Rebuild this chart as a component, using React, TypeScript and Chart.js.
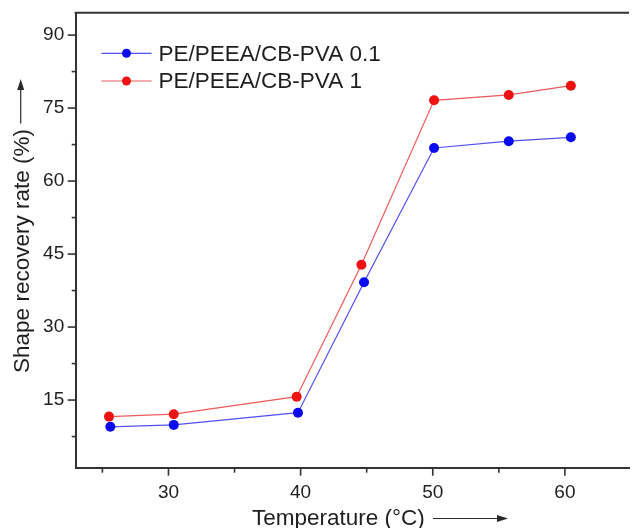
import React, { useEffect, useRef } from "react";
import { Chart, registerables } from "chart.js";

Chart.register(...registerables);

// ---- data ----
const seriesLabels = ["PE/PEEA/CB-PVA 0.1", "PE/PEEA/CB-PVA 1"];
const temperatureBlue = [25.6, 30.4, 39.8, 44.8, 50.1, 55.75, 60.45];
const recoveryBlue = [9.5, 9.9, 12.4, 39.2, 66.8, 68.2, 69.0];
const temperatureRed = [25.5, 30.4, 39.7, 44.6, 50.1, 55.75, 60.45];
const recoveryRed = [11.6, 12.1, 15.7, 42.8, 76.6, 77.7, 79.6];

const xMajorTicks = [30, 40, 50, 60];
const xMinorTicks = [25, 35, 45, 55];
const yMajorTicks = [15, 30, 45, 60, 75, 90];
const yMinorTicks = [7.5, 22.5, 37.5, 52.5, 67.5, 82.5];

const xTitle = "Temperature (°C)";
const yTitle = "Shape recovery rate (%)";

const X_MIN = 22.98;
const X_MAX = 64.85;
const Y_MIN = 1.1;
const Y_MAX = 94.6;

const FONT = "'Liberation Sans', Arial, sans-serif";
const AXIS_COLOR = "#333333";
const TEXT_COLOR = "#1e1e1e";
const BLUE_LINE = "#5050f5";
const BLUE_POINT = "#0a0af2";
const RED_LINE = "#ee5a5a";
const RED_POINT = "#f01212";

const decorPlugin = {
  id: "decor",
  afterDraw(chart: any) {
    const { ctx, chartArea, scales } = chart;
    const xs = scales.x;
    const ys = scales.y;
    ctx.save();
    // top border
    ctx.strokeStyle = AXIS_COLOR;
    ctx.lineWidth = 2;
    ctx.beginPath();
    ctx.moveTo(chartArea.left - 1, chartArea.top);
    ctx.lineTo(chartArea.right, chartArea.top);
    ctx.stroke();

    // tick marks
    ctx.lineWidth = 1.6;
    const xTick = (v: number, len: number) => {
      const px = xs.getPixelForValue(v);
      ctx.beginPath();
      ctx.moveTo(px, chartArea.bottom);
      ctx.lineTo(px, chartArea.bottom + len);
      ctx.stroke();
    };
    const yTick = (v: number, len: number) => {
      const py = ys.getPixelForValue(v);
      ctx.beginPath();
      ctx.moveTo(chartArea.left, py);
      ctx.lineTo(chartArea.left - len, py);
      ctx.stroke();
    };
    xMajorTicks.forEach((v) => xTick(v, 8));
    xMinorTicks.forEach((v) => xTick(v, 5));
    yMajorTicks.forEach((v) => yTick(v, 8));
    yMinorTicks.forEach((v) => yTick(v, 4));

    // legend
    const rows = [53.3, 81];
    chart.data.datasets.forEach((ds: any, i: number) => {
      const yy = rows[i];
      ctx.strokeStyle = ds.borderColor;
      ctx.lineWidth = 1.2;
      ctx.beginPath();
      ctx.moveTo(101.5, yy);
      ctx.lineTo(151.5, yy);
      ctx.stroke();
      ctx.fillStyle = ds.pointBackgroundColor;
      ctx.beginPath();
      ctx.arc(126.5, yy, 4.5, 0, Math.PI * 2);
      ctx.fill();
      ctx.fillStyle = TEXT_COLOR;
      ctx.font = `22.5px ${FONT}`;
      ctx.textAlign = "left";
      ctx.textBaseline = "middle";
      ctx.fillText(ds.label, 158.5, yy + 1);
    });

    // axis titles with arrows
    ctx.fillStyle = TEXT_COLOR;
    ctx.font = `22.5px ${FONT}`;
    ctx.textBaseline = "alphabetic";
    ctx.textAlign = "left";
    ctx.fillText(xTitle, 252, 524.5);

    ctx.save();
    ctx.translate(29, 251);
    ctx.rotate(-Math.PI / 2);
    ctx.textAlign = "center";
    ctx.fillText(yTitle, 0, 0);
    ctx.restore();

    ctx.strokeStyle = "#2a2a2a";
    ctx.fillStyle = "#2a2a2a";
    ctx.lineWidth = 1.2;
    // x arrow
    ctx.beginPath();
    ctx.moveTo(433, 518.5);
    ctx.lineTo(500, 518.5);
    ctx.stroke();
    ctx.beginPath();
    ctx.moveTo(508, 518.5);
    ctx.lineTo(497, 515);
    ctx.lineTo(497, 522);
    ctx.closePath();
    ctx.fill();
    // y arrow
    ctx.beginPath();
    ctx.moveTo(20.7, 123.5);
    ctx.lineTo(20.7, 87);
    ctx.stroke();
    ctx.beginPath();
    ctx.moveTo(20.7, 79);
    ctx.lineTo(17.2, 90);
    ctx.lineTo(24.2, 90);
    ctx.closePath();
    ctx.fill();

    ctx.restore();
  },
};

export default function App() {
  const canvasRef = useRef<HTMLCanvasElement | null>(null);

  useEffect(() => {
    if (!canvasRef.current) return;
    const chart = new Chart(canvasRef.current, {
      type: "scatter",
      data: {
        datasets: [
          {
            label: seriesLabels[0],
            data: temperatureBlue.map((t, i) => ({ x: t, y: recoveryBlue[i] })),
            showLine: true,
            borderColor: BLUE_LINE,
            borderWidth: 1.2,
            pointBackgroundColor: BLUE_POINT,
            pointBorderColor: BLUE_POINT,
            pointRadius: 5,
            pointBorderWidth: 0,
          },
          {
            label: seriesLabels[1],
            data: temperatureRed.map((t, i) => ({ x: t, y: recoveryRed[i] })),
            showLine: true,
            borderColor: RED_LINE,
            borderWidth: 1.2,
            pointBackgroundColor: RED_POINT,
            pointBorderColor: RED_POINT,
            pointRadius: 5,
            pointBorderWidth: 0,
          },
        ],
      },
      options: {
        animation: false,
        responsive: false,
        devicePixelRatio: 1,
        layout: { padding: { top: 12.7, right: 0, left: 0, bottom: 0 } },
        plugins: {
          legend: { display: false },
          tooltip: { enabled: false },
        },
        scales: {
          x: {
            type: "linear",
            min: X_MIN,
            max: X_MAX,
            grid: { display: false, drawTicks: false },
            border: { display: true, color: AXIS_COLOR, width: 2 },
            ticks: {
              color: TEXT_COLOR,
              font: { family: FONT, size: 19 },
              padding: 14,
              maxRotation: 0,
            },
            afterBuildTicks: (s: any) => {
              s.ticks = xMajorTicks.map((v) => ({ value: v }));
            },
            afterFit: (s: any) => {
              s.height = 60.3;
              s.paddingLeft = 0;
              s.paddingRight = 0;
            },
          },
          y: {
            type: "linear",
            min: Y_MIN,
            max: Y_MAX,
            grid: { display: false, drawTicks: false },
            border: { display: true, color: AXIS_COLOR, width: 2 },
            ticks: {
              color: TEXT_COLOR,
              font: { family: FONT, size: 19 },
              padding: 11.5,
            },
            afterBuildTicks: (s: any) => {
              s.ticks = yMajorTicks.map((v) => ({ value: v }));
            },
            afterFit: (s: any) => {
              s.width = 75.7;
              s.paddingTop = 0;
              s.paddingBottom = 0;
            },
          },
        },
      } as any,
      plugins: [decorPlugin],
    });
    return () => chart.destroy();
  }, []);

  return (
    <div
      style={{
        position: "fixed",
        left: 0,
        top: 0,
        width: 634,
        height: 528,
        background: "#ffffff",
        overflow: "hidden",
      }}
    >
      <canvas ref={canvasRef} width={634} height={528} />
    </div>
  );
}
